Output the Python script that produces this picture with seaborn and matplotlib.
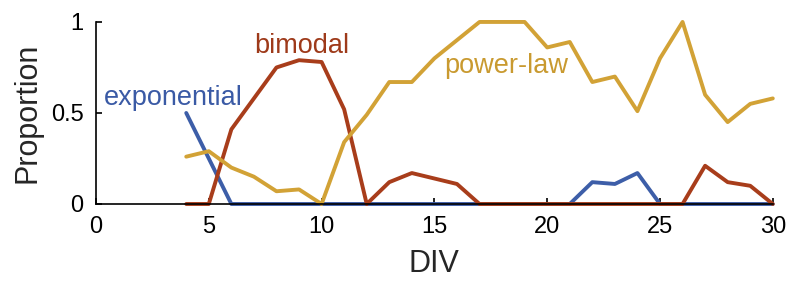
import matplotlib
matplotlib.use("Agg")
import matplotlib.pyplot as plt
import seaborn as sns
import pandas as pd

div = list(range(4, 31))

exponential = [0.50, 0.25, 0, 0, 0, 0, 0, 0, 0, 0, 0, 0, 0, 0, 0, 0, 0, 0,
               0.12, 0.11, 0.17, 0, 0, 0, 0, 0, 0]
bimodal = [0, 0, 0.41, 0.58, 0.75, 0.79, 0.78, 0.52, 0, 0.12, 0.17, 0.14, 0.11,
           0, 0, 0, 0, 0, 0, 0, 0, 0, 0, 0.21, 0.12, 0.10, 0]
power_law = [0.26, 0.29, 0.20, 0.15, 0.07, 0.08, 0, 0.34, 0.49, 0.67, 0.67, 0.80,
             0.90, 1.0, 1.0, 1.0, 0.86, 0.89, 0.67, 0.70, 0.51, 0.80, 1.0, 0.60,
             0.45, 0.55, 0.58]

names = ["exponential", "bimodal", "power-law"]
colors = ["#3d5ea8", "#a83d1b", "#d2a236"]

df = pd.concat([
    pd.DataFrame({"DIV": div, "Proportion": exponential, "kind": "exponential"}),
    pd.DataFrame({"DIV": div, "Proportion": bimodal, "kind": "bimodal"}),
    pd.DataFrame({"DIV": div, "Proportion": power_law, "kind": "power-law"}),
])

sns.set_style("ticks")
plt.rcParams['font.family'] = ['Liberation Sans', 'DejaVu Sans']

fig = plt.figure(figsize=(8, 2.84), dpi=100)
ax = fig.add_axes([0.12, 0.2817, 0.846, 0.641])

sns.lineplot(data=df, x="DIV", y="Proportion", hue="kind", hue_order=names,
             palette=colors, linewidth=2.8, legend=False, ax=ax, clip_on=False)

ax.set_xlim(0, 30)
ax.set_ylim(0, 1)
ax.set_xticks([0, 5, 10, 15, 20, 25, 30])
ax.set_yticks([0, 0.5, 1])
ax.set_yticklabels(["0", "0.5", "1"])
ax.tick_params(direction="in", length=4, width=1.2, labelsize=17, colors="black")
ax.tick_params(axis="x", pad=8.5)
ax.tick_params(axis="y", pad=9)
ax.set_xlabel("DIV", fontsize=22, labelpad=8)
ax.set_ylabel("Proportion", fontsize=22, labelpad=6)
sns.despine(ax=ax)
for s in ["left", "bottom"]:
    ax.spines[s].set_linewidth(1.2)
    ax.spines[s].set_color("black")

# labels next to the curves
ax.text(3.41, 0.58, "exponential", color="#3a5aa5", fontsize=19.5, ha="center", va="center")
ax.text(9.13, 0.87, "bimodal", color="#9e3a1a", fontsize=19.5, ha="center", va="center")
ax.text(18.2, 0.76, "power-law", color="#c99a30", fontsize=19.5, ha="center", va="center")

fig.savefig("out.png", dpi=100)
